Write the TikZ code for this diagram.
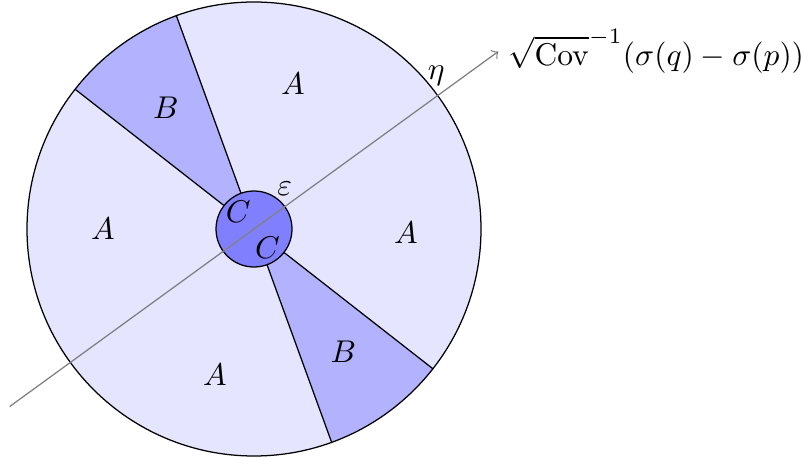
\documentclass[tikz,border=0pt]{standalone}
\usetikzlibrary{calc}
\begin{document}
\begin{tikzpicture}[x=0.318pt,y=0.318pt,
  lbl/.style={inner sep=0pt},
  regA/.style={fill=blue!10},
  regB/.style={fill=blue!30},
  regC/.style={fill=blue!50, draw=black},
  axisline/.style={draw=black!50, ->}]
\useasboundingbox (0,0) rectangle (803,463);
\coordinate (O) at (254,234);
\begin{scope}[shift={(O)}]
  \fill[regA] (0,0) circle[radius=227];
  \fill[regB] (0,0) -- (110:227) arc[start angle=110, end angle=142, radius=227] -- cycle;
  \fill[regB] (0,0) -- (290:227) arc[start angle=290, end angle=322, radius=227] -- cycle;
  \draw (110:38) -- (110:227);
  \draw (142:38) -- (142:227);
  \draw (290:38) -- (290:227);
  \draw (322:38) -- (322:227);
  \draw (0,0) circle[radius=227];
  \draw[regC] (0,0) circle[radius=38];
  \coordinate (s) at (216:302);
  \coordinate (e) at (36:302);
  \node[lbl] (a1) at (75:150) {$A$};
  \node[lbl] (a2) at (180:151) {$A$};
  \node[lbl] (a3) at (-1.5:152) {$A$};
  \node[lbl] (a4) at (255:151) {$A$};
  \node[lbl] (b1) at (126:150) {$B$};
  \node[lbl] (b2) at (306:152) {$B$};
  \node[lbl] (c1) at (133:23) {$C$};
  \node[lbl] (c2) at (-54:23) {$C$};
  \node[lbl] (eps) at (53:51) {$\varepsilon$};
  \node[lbl] (eta) at (40:238) {$\eta$};
\end{scope}
\draw[axisline] (s) -- (e);
\node[anchor=west, inner sep=3pt] (lab) at (e) {$\sqrt{\mathrm{Cov}}^{-1}(\sigma(q)-\sigma(p))$};
\end{tikzpicture}
\end{document}
